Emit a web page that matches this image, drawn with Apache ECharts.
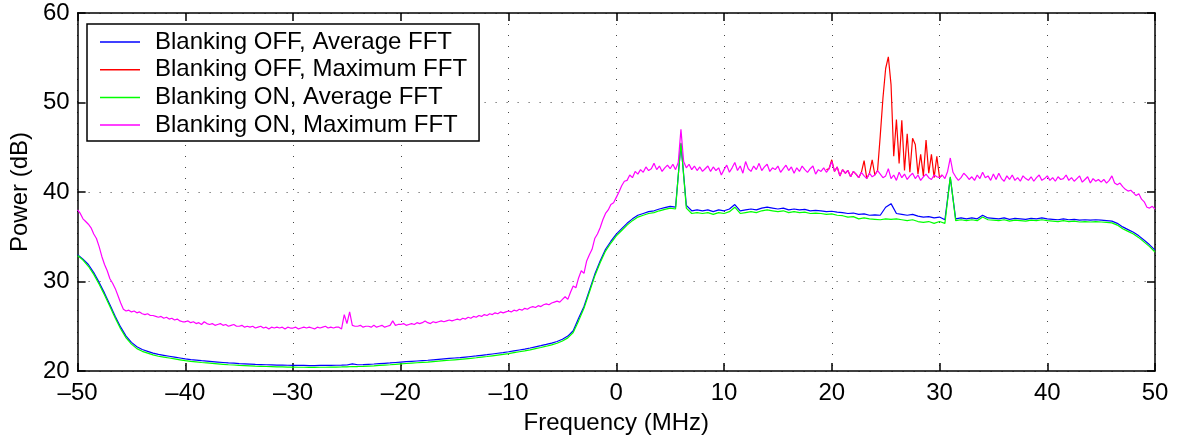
<!DOCTYPE html>
<html>
	<head>
		<meta charset="utf-8">
		<title>Power spectrum</title>
		<style type="text/css">
			html, body { margin: 0; padding: 0; background: #fff; }
			#main { width: 1179px; height: 440px; }
		</style>
	</head>
	<body>
		<div id="main"></div>
		<script src="https://cdn.jsdelivr.net/npm/echarts@6/dist/echarts.min.js" type="text/javascript"></script>
		<script type="text/javascript">
			// frequency grids (MHz): average traces every 0.5, max traces every 0.25
			var avgStart = -50, avgStep = 0.5;
			var maxStart = -50, maxStep = 0.25;
			var redStart = 19.5, redStep = 0.25;

			var seriesNames = ['Blanking OFF, Average FFT', 'Blanking OFF, Maximum FFT',
				'Blanking ON, Average FFT', 'Blanking ON, Maximum FFT'];

			// Blanking OFF, average (dB)
			var offAvg = [
				33.0, 32.5, 31.9, 31.0, 29.9, 28.7, 27.4, 26.1, 24.9, 23.9,
				23.2, 22.7, 22.4, 22.2, 22.0, 21.85, 21.75, 21.65, 21.55, 21.45,
				21.35, 21.28, 21.22, 21.15, 21.1, 21.05, 21.0, 20.95, 20.9, 20.87,
				20.83, 20.8, 20.77, 20.74, 20.72, 20.7, 20.68, 20.66, 20.65, 20.64,
				20.63, 20.62, 20.62, 20.61, 20.61, 20.62, 20.62, 20.63, 20.64, 20.65,
				20.67, 20.8, 20.7, 20.72, 20.75, 20.78, 20.82, 20.86, 20.9, 20.95,
				21.0, 21.04, 21.08, 21.12, 21.16, 21.2, 21.25, 21.3, 21.35, 21.4,
				21.45, 21.5, 21.56, 21.62, 21.68, 21.75, 21.82, 21.9, 21.98, 22.06,
				22.15, 22.25, 22.35, 22.45, 22.57, 22.7, 22.83, 22.97, 23.12, 23.3,
				23.55, 23.9, 24.5, 25.9, 27.2, 29.0, 30.8, 32.3, 33.6, 34.5,
				35.3, 35.9, 36.5, 37.0, 37.4, 37.6, 37.8, 37.9, 38.1, 38.25,
				38.4, 38.3, 45.4, 38.5, 37.9, 38.0, 37.9, 38.0, 37.8, 38.0,
				37.9, 38.1, 38.6, 37.9, 38.0, 38.1, 38.0, 38.2, 38.3, 38.2,
				38.1, 38.2, 38.0, 38.1, 38.0, 38.05, 37.9, 37.95, 37.9, 37.8,
				37.85, 37.75, 37.7, 37.6, 37.65, 37.5, 37.55, 37.4, 37.45, 37.4,
				38.3, 38.7, 37.6, 37.5, 37.4, 37.5, 37.3, 37.2, 37.25, 37.1,
				37.2, 36.9, 41.6, 37.0, 37.1, 37.0, 37.1, 37.0, 37.4, 37.1,
				37.05, 37.0, 37.1, 36.95, 37.05, 37.0, 36.95, 37.05, 37.0, 37.1,
				37.0, 36.95, 36.9, 37.0, 36.9, 36.95, 36.85, 36.9, 36.85, 36.9,
				36.85, 36.8, 36.75, 36.5, 36.1, 35.8, 35.5, 35.1, 34.6, 34.1,
				33.5
			];

			// Blanking ON, average (dB)
			var onAvg = [
				32.9, 32.4, 31.7, 30.8, 29.7, 28.5, 27.2, 25.9, 24.7, 23.7,
				23.0, 22.5, 22.2, 22.0, 21.8, 21.65, 21.55, 21.45, 21.35, 21.25,
				21.15, 21.08, 21.02, 20.95, 20.9, 20.85, 20.8, 20.75, 20.7, 20.67,
				20.63, 20.6, 20.57, 20.54, 20.52, 20.5, 20.48, 20.46, 20.45, 20.44,
				20.43, 20.42, 20.42, 20.41, 20.41, 20.42, 20.42, 20.43, 20.44, 20.45,
				20.47, 20.5, 20.5, 20.52, 20.55, 20.58, 20.62, 20.66, 20.7, 20.75,
				20.8, 20.84, 20.88, 20.92, 20.96, 21.0, 21.05, 21.1, 21.15, 21.2,
				21.25, 21.3, 21.36, 21.42, 21.48, 21.55, 21.62, 21.7, 21.78, 21.86,
				21.95, 22.05, 22.15, 22.25, 22.37, 22.5, 22.63, 22.77, 22.92, 23.1,
				23.35, 23.7, 24.3, 25.6, 27.0, 28.8, 30.6, 32.1, 33.4, 34.3,
				35.1, 35.7, 36.3, 36.8, 37.2, 37.4, 37.6, 37.7, 37.9, 38.05,
				38.2, 38.1, 45.5, 38.2, 37.6, 37.7, 37.6, 37.7, 37.5, 37.7,
				37.6, 37.8, 38.3, 37.6, 37.7, 37.8, 37.7, 37.9, 38.0, 37.9,
				37.8, 37.9, 37.7, 37.8, 37.7, 37.75, 37.6, 37.65, 37.6, 37.5,
				37.55, 37.4, 37.35, 37.2, 37.25, 37.0, 37.1, 37.0, 36.95, 36.9,
				37.0, 36.95, 37.0, 36.9, 36.8, 36.9, 36.7, 36.6, 36.7, 36.5,
				36.7, 36.5, 41.7, 36.8, 36.9, 36.8, 36.9, 36.8, 37.2, 36.9,
				36.85, 36.8, 36.9, 36.75, 36.85, 36.8, 36.75, 36.85, 36.8, 36.9,
				36.8, 36.75, 36.7, 36.8, 36.7, 36.75, 36.65, 36.7, 36.65, 36.7,
				36.65, 36.6, 36.55, 36.3, 35.9, 35.6, 35.3, 34.9, 34.4, 33.9,
				33.3
			];

			// Blanking ON, maximum (dB), rows of 5 MHz
			var onMax = [
				38.0, 37.6, 37.0, 36.7, 36.4, 36.0, 35.3, 34.8, 33.9, 32.8, 31.9, 31.2, 30.3, 29.8, 29.2, 28.4, 27.6, 26.9, 26.7, 26.8,
				26.6, 26.7, 26.5, 26.6, 26.4, 26.3, 26.4, 26.2, 26.2, 26.1, 26.0, 26.1, 25.9, 26.0, 25.8, 25.9, 25.7, 25.8, 25.6, 25.5,
				25.5, 25.6, 25.4, 25.5, 25.3, 25.4, 25.2, 25.5, 25.3, 25.2, 25.3, 25.1, 25.2, 25.3, 25.1, 25.2, 25.0, 25.1, 25.2, 25.0,
				25.0, 25.1, 24.9, 25.0, 24.9, 25.0, 24.8, 24.9, 25.0, 24.8, 24.9, 24.7, 24.9, 24.8, 24.9, 24.8, 24.9, 24.7, 24.9, 24.8,
				24.8, 24.9, 24.7, 24.8, 24.9, 24.8, 24.9, 24.8, 24.7, 24.9, 24.8, 24.9, 25.0, 24.8, 24.9, 24.8, 24.9, 24.9, 24.7, 26.3,
				25.3, 26.6, 25.1, 25.0, 25.0, 25.1, 24.9, 25.0, 25.0, 24.9, 25.1, 24.9, 25.0, 25.1, 24.9, 25.0, 25.1, 25.6, 25.1, 25.2,
				25.2, 25.3, 25.1, 25.2, 25.3, 25.2, 25.4, 25.3, 25.4, 25.6, 25.4, 25.3, 25.5, 25.4, 25.5, 25.6, 25.5, 25.6, 25.7, 25.6,
				25.7, 25.8, 25.7, 25.9, 25.8, 26.0, 25.9, 26.1, 26.0, 26.2, 26.1, 26.3, 26.2, 26.4, 26.3, 26.5, 26.4, 26.6, 26.5, 26.6,
				26.7, 26.6, 26.8, 26.7, 26.9, 26.8, 27.0, 26.9, 27.1, 27.2, 27.1, 27.3, 27.2, 27.4, 27.5, 27.4, 27.6, 27.7, 27.8, 27.7,
				28.0, 28.3, 28.0, 28.8, 29.5, 29.3, 30.4, 31.2, 30.9, 32.3, 33.0, 33.6, 34.8, 35.3, 36.0, 36.9, 37.6, 38.0, 38.6, 38.8,
				39.4, 40.0, 40.7, 41.2, 41.3, 41.9, 41.6, 42.3, 42.0, 42.5, 42.2, 42.8, 42.4, 42.6, 43.2, 42.5, 42.9, 42.3, 42.7, 43.0,
				42.6, 43.1, 42.5, 43.3, 47.0, 43.4, 42.7, 43.1, 42.5, 42.9, 42.4, 42.8, 42.3, 42.6, 42.9, 42.3, 42.8, 42.4, 42.7, 41.9,
				42.5, 43.0, 42.2, 42.7, 43.3, 42.4, 42.9, 42.1, 43.4, 42.6, 42.3, 42.9, 42.5, 43.2, 42.4, 42.8, 43.1, 42.3, 42.7, 42.5,
				42.9, 42.2, 42.6, 43.0, 42.4, 42.8, 42.1, 42.7, 42.3, 42.9, 42.5, 42.2, 42.6, 42.9, 42.0, 42.5, 42.3, 42.7, 42.2, 42.6,
				43.4, 42.3, 42.8, 41.8, 42.5, 42.1, 42.4, 41.7, 42.3, 42.0, 41.6, 42.2, 41.8, 41.5, 42.1, 41.7, 41.9, 42.4, 42.0, 41.6,
				41.8, 42.6, 41.5, 41.9, 41.3, 42.2, 41.6, 42.0, 41.4, 41.8, 42.1, 41.5, 41.9, 41.3, 41.7, 42.0, 41.6, 41.4, 41.9, 41.7,
				41.6, 41.9, 41.5, 42.3, 43.8, 42.2, 41.7, 41.3, 41.6, 42.1, 41.8, 41.4, 41.7, 41.3, 41.9, 41.5, 42.2, 41.6, 41.8, 41.3,
				42.0, 41.4, 42.1, 41.5, 41.2, 41.8, 41.4, 41.9, 41.3, 41.6, 41.2, 41.8, 41.5, 41.3, 41.7, 41.2, 41.6, 41.9, 41.3, 41.5,
				41.8, 41.3, 41.6, 41.2, 41.7, 41.4, 41.5, 41.9, 41.3, 41.6, 41.2, 41.5, 41.8, 41.1, 41.4, 41.7, 41.0, 41.5, 41.2, 41.4,
				41.1, 41.4, 41.0, 41.3, 41.8, 41.0, 40.8, 41.0, 40.6, 40.3, 40.1, 40.2, 39.9, 39.6, 39.8, 39.2, 38.9, 38.3, 38.2, 38.4,
				38.1
			];

			// Blanking OFF, maximum (dB) -- only where it rises above the ON trace (19.5..30.25 MHz)
			var offMax = [
				42.5, 42.6, 43.6, 42.3, 42.8, 41.8, 42.5, 42.1, 42.4, 41.7,
				42.3, 42.0, 41.6, 42.2, 43.5, 41.5, 42.1, 43.6, 41.9, 42.4,
				46.3, 50.5, 53.8, 55.1, 52.0, 44.0, 48.1, 43.2, 48.0, 42.4,
				46.5, 42.2, 46.0, 45.3, 42.0, 44.2, 41.8, 45.8, 42.1, 44.2,
				41.6, 44.0, 41.6, 41.9
			];

			var xTicks = [-50, -40, -30, -20, -10, 0, 10, 20, 30, 40, 50];
			var yTicks = [20, 30, 40, 50, 60];

			function pairs(start, step, vals) {
				return vals.map(function(v, i) { return [start + i * step, v]; });
			}

			var font = "'Liberation Sans', Arial, sans-serif";
			var minus = function(v) { return String(v).replace('-', '\u2013'); };

			var myChart = echarts.init(document.getElementById('main'));

			var baseAxis = {
				type: 'value',
				axisLine: { show: true, onZero: false, lineStyle: { color: '#000', width: 1.5 } },
				axisTick: { show: true, inside: true, length: 8, lineStyle: { color: '#000', width: 1.5 } },
				splitLine: { show: false }
			};

			var option = {
				animation: false,
				backgroundColor: '#fff',
				textStyle: { fontFamily: font },
				grid: { left: 74, right: 24, top: 13, bottom: 67 },
				legend: {
					orient: 'vertical',
					left: 87,
					top: 24,
					padding: [6, 12, 4, 13],
					icon: 'rect',
					itemWidth: 40,
					itemHeight: 1.5,
					itemGap: 3.7,
					backgroundColor: '#fff',
					borderColor: '#000',
					borderWidth: 1.5,
					borderRadius: 0,
					textStyle: { fontFamily: font, fontSize: 24, lineHeight: 24, color: '#000', padding: [0, 0, 0, 10] },
					data: seriesNames
				},
				xAxis: [
					Object.assign({}, baseAxis, {
						min: xTicks[0], max: xTicks[xTicks.length - 1], interval: 10,
						position: 'bottom',
						name: 'Frequency (MHz)', nameLocation: 'middle', nameGap: 40,
						nameTextStyle: { fontFamily: font, fontSize: 24, color: '#000' },
						axisLabel: { fontFamily: font, fontSize: 24, color: '#000', margin: 10, formatter: minus },
						splitLine: { show: true, lineStyle: { type: [1, 10], color: '#444', width: 1 } }
					}),
					Object.assign({}, baseAxis, {
						min: xTicks[0], max: xTicks[xTicks.length - 1], interval: 10,
						position: 'top', axisLabel: { show: false }
					})
				],
				yAxis: [
					Object.assign({}, baseAxis, {
						min: yTicks[0], max: yTicks[yTicks.length - 1], interval: 10,
						position: 'left',
						name: 'Power (dB)', nameLocation: 'middle', nameGap: 40,
						nameTextStyle: { fontFamily: font, fontSize: 24, color: '#000' },
						axisLabel: { fontFamily: font, fontSize: 24, color: '#000', margin: 8, formatter: minus },
						splitLine: { show: true, lineStyle: { type: [1, 10], color: '#444', width: 1 } }
					}),
					Object.assign({}, baseAxis, {
						min: yTicks[0], max: yTicks[yTicks.length - 1], interval: 10,
						position: 'right', axisLabel: { show: false }
					})
				],
				series: [
					{ name: seriesNames[0], type: 'line', symbol: 'none', color: '#0000ff', lineStyle: { width: 1.2 }, data: pairs(avgStart, avgStep, offAvg) },
					{ name: seriesNames[1], type: 'line', symbol: 'none', color: '#ff0000', lineStyle: { width: 1.2 }, data: pairs(redStart, redStep, offMax) },
					{ name: seriesNames[2], type: 'line', symbol: 'none', color: '#00ff00', lineStyle: { width: 1.2 }, data: pairs(avgStart, avgStep, onAvg) },
					{ name: seriesNames[3], type: 'line', symbol: 'none', color: '#ff00ff', lineStyle: { width: 1.2 }, data: pairs(maxStart, maxStep, onMax) }
				]
			};
			myChart.setOption(option);
		</script>
	</body>
</html>
